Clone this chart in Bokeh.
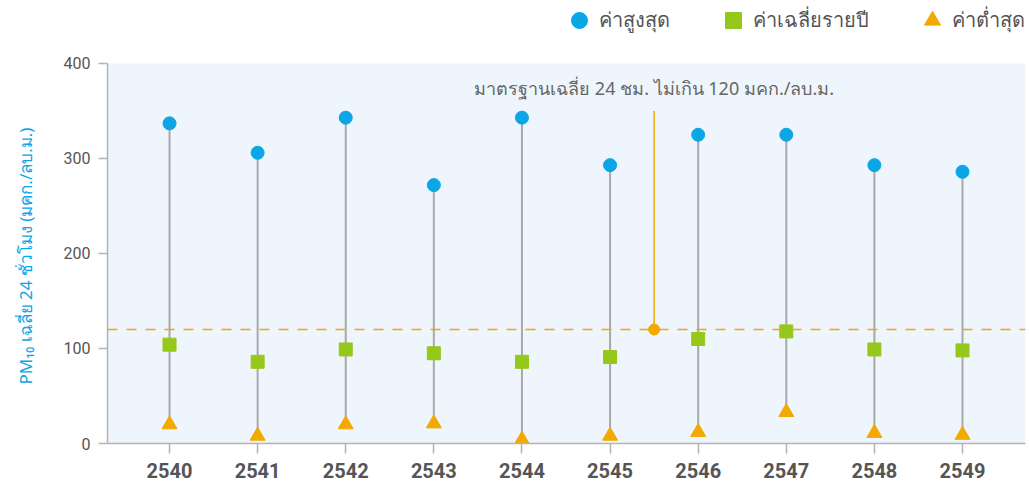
from bokeh.plotting import figure
from bokeh.models import Span, Label, Legend, LegendItem, FixedTicker, Range1d, BoxAnnotation
from bokeh.embed import file_html
from bokeh.resources import INLINE
import numpy as np

# ---- data ----
years = ["2540", "2541", "2542", "2543", "2544", "2545", "2546", "2547", "2548", "2549"]
max_vals = [337, 306, 343, 272, 343, 293, 325, 325, 293, 286]
mean_vals = [104, 86, 99, 95, 86, 91, 110, 118, 99, 98]
min_vals = [20, 8, 20, 21, 4, 8, 12, 33, 11, 9]
standard_value = 120
standard_marker_top = 350
standard_label_y = 374
standard_label = "มาตรฐานเฉลี่ย 24 ชม. ไม่เกิน 120 มคก./ลบ.ม."
legend_labels = ["ค่าสูงสุด", "ค่าเฉลี่ยรายปี", "ค่าต่ำสุด"]
y_ticks = [0, 100, 200, 300, 400]
y_min, y_max = 0, 400
y_label = "PM₁₀ เฉลี่ย 24 ชั่วโมง (มคก./ลบ.ม.)"

BLUE = "#0BA6E6"
GREEN = "#94C81A"
ORANGE = "#F2A900"
STEM = "#A8A8A8"
THAI_FONT = "Noto Sans"

x = np.arange(len(years))
std_x = years.index("2545") + 0.5

# frame spans the whole top area (legend lives inside it, above the 0-400 band)
p = figure(width=1026, height=481,
           x_range=Range1d(-0.704, 9.715), y_range=Range1d(y_min, 466.3),
           output_backend="svg", toolbar_location=None,
           min_border_left=107, min_border_right=1,
           min_border_top=0, min_border_bottom=38)

p.background_fill_color = "white"
p.border_fill_color = "white"
p.outline_line_color = None
p.xgrid.grid_line_color = None
p.ygrid.grid_line_color = None

p.add_layout(BoxAnnotation(bottom=y_min, top=y_max, fill_color="#EEF5FC", fill_alpha=1,
                           line_color=None, level="underlay"))

# stems
p.segment(x0=x, y0=min_vals, x1=x, y1=max_vals, line_color=STEM, line_width=2)

# standard line
p.add_layout(Span(location=standard_value, dimension="width", line_color=ORANGE,
                  line_width=1.5, line_dash="10 9"))
p.segment(x0=[std_x], y0=[standard_value], x1=[std_x], y1=[standard_marker_top],
          line_color=ORANGE, line_width=1.5)
p.scatter([std_x], [standard_value], marker="circle", size=11, fill_color=ORANGE,
          line_color=ORANGE)
p.add_layout(Label(x=std_x, y=standard_label_y, text=standard_label,
                   text_align="center", text_baseline="middle",
                   text_font=THAI_FONT, text_font_size="18px", text_color="#666666"))

r_max = p.scatter(x, max_vals, marker="circle", size=13, fill_color=BLUE, line_color=BLUE)
r_mean = p.scatter(x, mean_vals, marker="square", size=13, fill_color=GREEN, line_color=GREEN)
r_min = p.scatter(x, min_vals, marker="triangle", size=15, fill_color=ORANGE, line_color=ORANGE)

legend = Legend(items=[LegendItem(label=legend_labels[0], renderers=[r_max]),
                       LegendItem(label=legend_labels[1], renderers=[r_mean]),
                       LegendItem(label=legend_labels[2], renderers=[r_min])],
                orientation="horizontal", location="top_right",
                glyph_width=40, glyph_height=40, label_standoff=0,
                spacing=43, padding=0, margin=0,
                border_line_color=None, background_fill_alpha=0,
                label_text_font=THAI_FONT, label_text_font_size="20px",
                label_text_color="#555555")
p.add_layout(legend, "center")

# x axis
p.xaxis.ticker = FixedTicker(ticks=list(range(len(years))))
p.xaxis.major_label_overrides = {i: yr for i, yr in enumerate(years)}
p.xaxis.major_label_text_font = "Roboto"
p.xaxis.major_label_text_font_style = "bold"
p.xaxis.major_label_text_font_size = "20px"
p.xaxis.major_label_text_color = "#555555"
p.xaxis.major_tick_out = 10
p.xaxis.major_tick_in = 0
p.xaxis.minor_tick_line_color = None
p.xaxis.axis_line_color = "#B4B4B4"
p.xaxis.axis_line_width = 1.5
p.xaxis.major_tick_line_color = "#B4B4B4"
p.xaxis.major_tick_line_width = 1.5
p.xaxis.major_label_standoff = 9

# y axis
p.yaxis.ticker = FixedTicker(ticks=y_ticks)
p.yaxis.bounds = (y_min, y_max)
p.yaxis.major_label_text_font = "Roboto"
p.yaxis.major_label_text_font_size = "16px"
p.yaxis.major_label_text_color = "#555555"
p.yaxis.major_tick_out = 9
p.yaxis.major_tick_in = 0
p.yaxis.minor_tick_line_color = None
p.yaxis.axis_line_color = "#B4B4B4"
p.yaxis.axis_line_width = 1.5
p.yaxis.major_tick_line_color = "#B4B4B4"
p.yaxis.major_tick_line_width = 1.5
p.yaxis.major_label_standoff = 8
# trailing em-spaces keep the visible title centred on the 0-400 band
p.yaxis.axis_label = y_label + "\u2003" * 4
p.yaxis.axis_label_text_font = THAI_FONT
p.yaxis.axis_label_text_font_size = "17px"
p.yaxis.axis_label_text_font_style = "normal"
p.yaxis.axis_label_text_color = BLUE
p.yaxis.axis_label_standoff = 24

open("out.html", "w").write(file_html(p, INLINE))
